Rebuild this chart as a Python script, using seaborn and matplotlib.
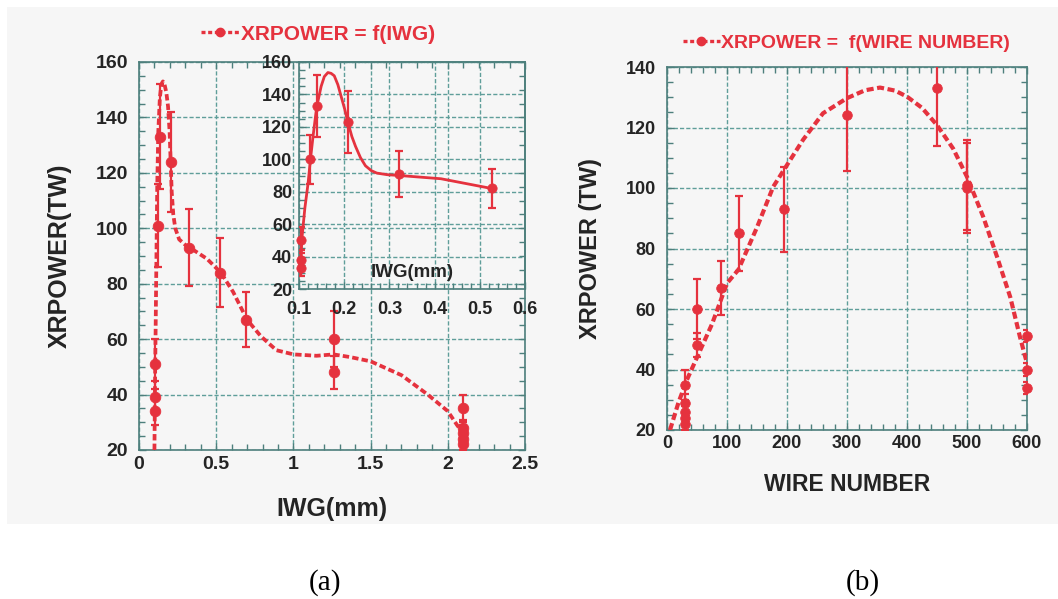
import matplotlib
matplotlib.use("Agg")
import matplotlib.pyplot as plt
import seaborn as sns
from matplotlib.lines import Line2D
from matplotlib.patches import Rectangle
from matplotlib.ticker import MultipleLocator

# ---------------- data ----------------
# (a) XRPOWER vs IWG : measured points with error bars
iwg_x = [0.105, 0.105, 0.105, 0.125, 0.139, 0.209, 0.322, 0.526, 0.69, 1.26, 1.26, 2.10, 2.10, 2.10, 2.10, 2.10]
iwg_y = [34, 39, 51, 101, 133, 124, 93, 84, 67, 60, 48, 35, 28, 26, 24, 22]
iwg_err = [5, 6, 9, 15, 19, 18, 14, 12.5, 10, 10, 6, 5, 3, 3, 2, 2]

# (a) dashed fitted curve
fit_iwg_x = [0.100, 0.103, 0.107, 0.112, 0.118, 0.125, 0.135, 0.145, 0.155, 0.165, 0.177, 0.188, 0.198,
             0.205, 0.212, 0.222, 0.235, 0.260, 0.300, 0.330, 0.440, 0.530, 0.610, 0.700, 0.790, 0.890,
             1.000, 1.150, 1.260, 1.370, 1.500, 1.700, 1.870, 2.000, 2.060, 2.100]
fit_iwg_y = [20, 40, 60, 85, 115, 135, 147, 152, 153, 152, 149, 144, 135,
             124, 113, 105, 100, 96, 94, 93, 89, 84, 77, 67, 61, 56,
             54.5, 54, 54.5, 53.5, 52, 47, 40, 34, 29, 26]

# (a) inset: zoom of the small-IWG region
inset_x = [0.105, 0.105, 0.105, 0.125, 0.139, 0.209, 0.322, 0.526]
inset_y = [33, 38, 50, 100, 133, 123, 91, 82]
inset_err = [5, 6, 8, 15, 19, 19, 14, 12]
inset_fit_x = [0.104, 0.106, 0.113, 0.120, 0.125, 0.131, 0.139, 0.149, 0.156, 0.164, 0.171, 0.178,
               0.186, 0.193, 0.201, 0.209, 0.217, 0.225, 0.236, 0.247, 0.260, 0.272, 0.295, 0.322,
               0.414, 0.526]
inset_fit_y = [29, 50, 70, 85, 99, 114, 132, 145, 151, 153.5, 153, 151.5,
               146, 139, 131, 122, 114, 108, 101, 96, 93, 91.5, 90.5, 90,
               88, 82]

# (b) XRPOWER vs wire number
wire_x = [30, 30, 30, 30, 30, 50, 50, 90, 120, 195, 300, 450, 500, 500, 600, 600, 600]
wire_y = [22, 24, 26, 29, 35, 48, 60, 67, 85, 93, 124, 133, 100, 101, 34, 40, 51]
wire_err = [2, 2, 2, 3, 5, 4, 10, 9, 12.5, 14, 18.5, 19, 15, 15, 2, 2, 2]

fit_wire_x = [5, 19, 33, 50, 75, 100, 119, 150, 177, 200, 227, 260, 300, 330, 355, 380, 400, 425,
              450, 477, 500, 527, 550, 572, 588, 600]
fit_wire_y = [20, 29, 36.5, 44, 55, 68.5, 73, 87, 100.4, 107.6, 116, 124.7, 129.7, 132.3, 133.2,
              132.2, 130.2, 126.5, 120.8, 113, 103.7, 90.5, 77.3, 64, 51, 42]

legend_a = "XRPOWER = f(IWG)"
legend_b = "XRPOWER =  f(WIRE NUMBER)"

# ---------------- styling ----------------
sns.set_theme(style="ticks")
plt.rcParams["font.family"] = ["Liberation Sans", "DejaVu Sans"]

RED = "#e5323e"
GRID = "#5f9e9a"
SPINE = "#4d7f7c"
TXT = "#242424"
BG = "#f6f6f6"

W, H = 1058, 599
fig = plt.figure(figsize=(W / 100, H / 100), dpi=100)
fig.patch.set_facecolor("white")
fig.patches.append(Rectangle((7 / W, 1 - 524 / H), 1 - 7 / W, (524 - 7) / H,
                             transform=fig.transFigure, facecolor=BG, edgecolor="none", zorder=-10))


def px_axes(x0, y0, x1, y1):
    return fig.add_axes([x0 / W, 1 - y1 / H, (x1 - x0) / W, (y1 - y0) / H])


def style_axes(ax, fs, xpad, ypad, xminor, yminor):
    ax.set_facecolor("none")
    for s in ax.spines.values():
        s.set_color(SPINE)
        s.set_linewidth(1.2)
    ax.xaxis.set_minor_locator(MultipleLocator(xminor))
    ax.yaxis.set_minor_locator(MultipleLocator(yminor))
    ax.tick_params(which="both", direction="in", top=True, right=True, colors=SPINE,
                   labelcolor=TXT)
    ax.tick_params(which="major", length=5, width=1.0)
    ax.tick_params(which="minor", length=4, width=1.0)
    ax.tick_params(axis="x", which="major", pad=xpad, labelsize=fs)
    ax.tick_params(axis="y", which="major", pad=ypad, labelsize=fs)
    for lab in ax.get_xticklabels() + ax.get_yticklabels():
        lab.set_fontweight("bold")
    ax.grid(True, which="major", color=GRID, linestyle=(0, (3, 1.5)), linewidth=1.0)
    ax.set_axisbelow(True)


def draw_series(ax, fx, fy, px, py, perr, lw, dashed, s, cap):
    sns.lineplot(x=fx, y=fy, ax=ax, color=RED, sort=False, estimator=None, linewidth=lw, zorder=3)
    ln = ax.lines[-1]
    if dashed:
        ln.set_linestyle((0, (1.7, 0.85)))
        ln.set_dash_capstyle("butt")
    ax.errorbar(px, py, yerr=perr, fmt="none", ecolor=RED, elinewidth=1.6, capsize=cap,
                capthick=1.6, zorder=4)
    sns.scatterplot(x=px, y=py, ax=ax, color=RED, edgecolor=RED, s=s, zorder=5, legend=False,
                    clip_on=False)


# ---------------- (a) main ----------------
axa = px_axes(139, 62, 525, 450)
draw_series(axa, fit_iwg_x, fit_iwg_y, iwg_x, iwg_y, iwg_err, 2.7, True, 58, 3)
axa.set_xlim(0, 2.5)
axa.set_ylim(20, 160)
axa.set_xticks([0, 0.5, 1, 1.5, 2, 2.5])
axa.set_xticklabels(["0", "0.5", "1", "1.5", "2", "2.5"])
axa.set_yticks(range(20, 161, 20))
style_axes(axa, 14, 4.5, 8, 0.1, 5)
axa.set_xlabel("IWG(mm)", fontsize=18, fontweight="bold", color=TXT)
axa.set_ylabel("XRPOWER(TW)", fontsize=18, fontweight="bold", color=TXT)
axa.xaxis.set_label_coords(0.5, -0.121)
axa.yaxis.set_label_coords(-0.174, 0.5)

# ---------------- (a) inset ----------------
axi = px_axes(299, 62, 525, 289)
draw_series(axi, inset_fit_x, inset_fit_y, inset_x, inset_y, inset_err, 2.0, False, 45, 3)
axi.set_xlim(0.1, 0.6)
axi.set_ylim(20, 160)
axi.set_xticks([0.1, 0.2, 0.3, 0.4, 0.5, 0.6])
axi.set_yticks(range(20, 161, 20))
style_axes(axi, 13, 8.5, 5, 0.02, 5)
axi.tick_params(which="both", top=False, right=False)
axi.text(0.5, 0.035, "IWG(mm)", transform=axi.transAxes, ha="center", va="bottom",
         fontsize=13.5, fontweight="bold", color=TXT)

# ---------------- (b) ----------------
axb = px_axes(667, 67, 1027, 430)
draw_series(axb, fit_wire_x, fit_wire_y, wire_x, wire_y, wire_err, 3.0, True, 48, 3)
axb.set_xlim(0, 600)
axb.set_ylim(20, 140)
axb.set_xticks(range(0, 601, 100))
axb.set_yticks(range(20, 141, 20))
style_axes(axb, 13, 3.5, 8, 20, 5)
axb.set_xlabel("WIRE NUMBER", fontsize=16.5, fontweight="bold", color=TXT)
axb.set_ylabel("XRPOWER (TW)", fontsize=17, fontweight="bold", color=TXT)
axb.xaxis.set_label_coords(0.5, -0.118)
axb.yaxis.set_label_coords(-0.18, 0.5)

# ---------------- legends ----------------
def add_legend(ax, text, cx, cy, fs):
    h = Line2D([], [], color=RED, linestyle=(0, (1.2, 0.8)), linewidth=2.4, marker="o",
               markersize=6, markeredgecolor=RED)
    leg = ax.legend([h], [text], loc="center", bbox_to_anchor=(cx / W, 1 - cy / H),
                    bbox_transform=fig.transFigure, frameon=False, handlelength=1.9,
                    handletextpad=0.05, borderpad=0, labelcolor=RED,
                    prop={"weight": "bold", "size": fs, "family": "Liberation Sans"})
    return leg

add_legend(axa, legend_a, 318, 34, 15)
add_legend(axb, legend_b, 846, 43, 14)

# ---------------- captions ----------------
fig.text(325 / W, 1 - 583 / H, "(a)", ha="center", va="center", fontsize=21,
         family="Liberation Serif", color="black")
fig.text(863 / W, 1 - 583 / H, "(b)", ha="center", va="center", fontsize=21,
         family="Liberation Serif", color="black")

fig.savefig("out.png", dpi=100)
